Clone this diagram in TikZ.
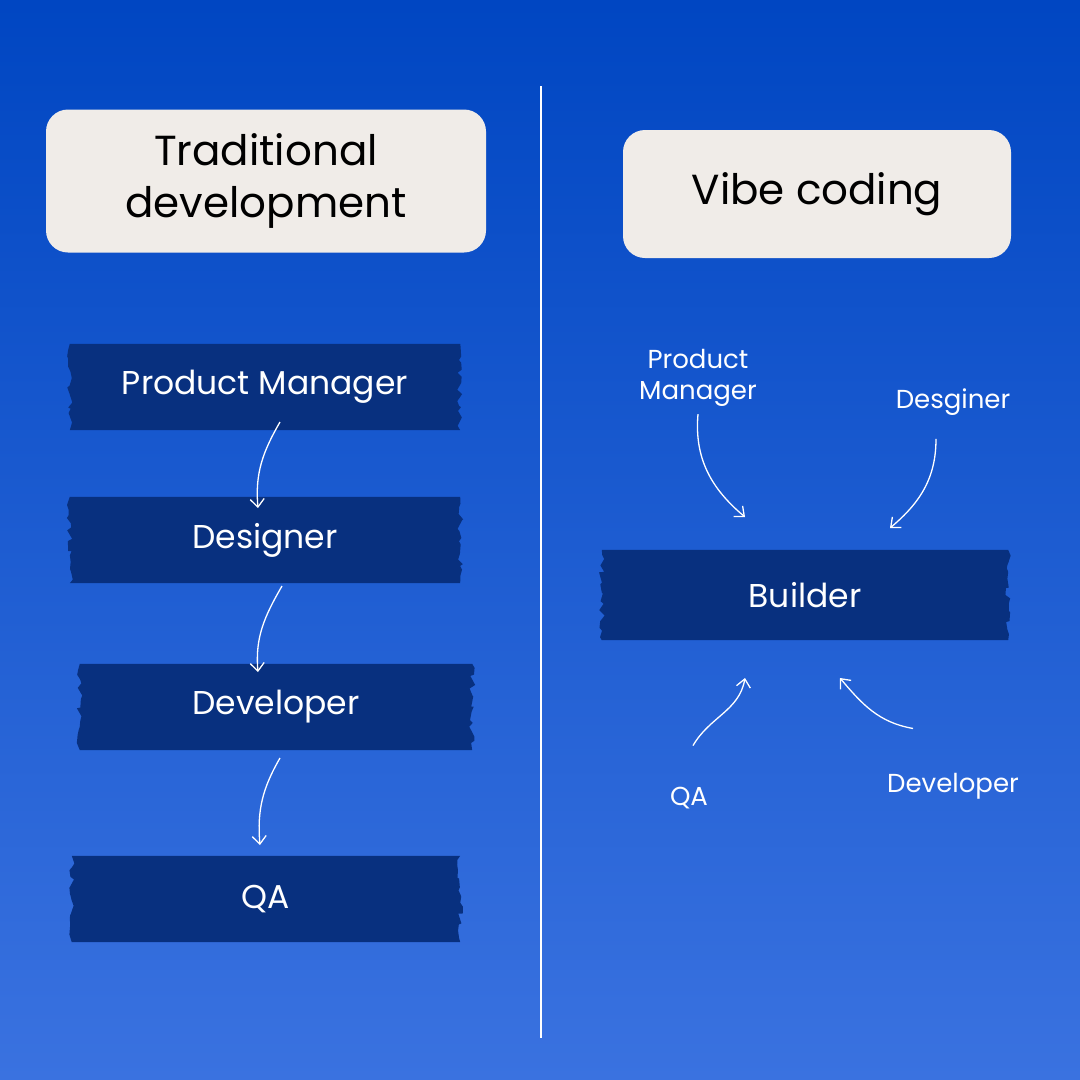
\documentclass[tikz,border=0pt]{standalone}
\usepackage{fontspec}
\setmainfont{Poppins}
\usetikzlibrary{arrows.meta,decorations.pathmorphing}
\definecolor{navy}{HTML}{08307F}
\definecolor{cream}{HTML}{F0ECE8}
\tikzset{
  bx/.style={minimum height=86pt,inner sep=0pt,text=white,font=\fontsize{33}{36}\selectfont},
  lbl/.style={text=white,font=\fontsize{26}{31}\selectfont,align=center},
  title/.style={fill=cream,rounded corners=22pt,align=center,font=\fontsize{42}{58}\selectfont,inner sep=0pt},
  arr/.style={white,line width=1.3pt,-{Straight Barb[length=8pt,width=14pt]}},
  rough/.style={decorate,decoration={random steps,segment length=5pt,amplitude=3pt}}
}
\newcommand{\brush}[1]{\fill[navy] (#1.north west) -- (#1.north east) decorate[rough]{-- (#1.south east)} -- (#1.south west) decorate[rough]{-- (#1.north west)};}
\begin{document}
\begin{tikzpicture}[x=1pt,y=-1pt]
\shade[top color=blue!70!black!95!cyan,bottom color=blue!55!cyan!60!white] (0,0) rectangle (1080,1080);
\shade[top color={rgb,255:red,0;green,70;blue,194},bottom color={rgb,255:red,58;green,114;blue,224}] (0,0) rectangle (1080,1080);
\useasboundingbox (0,0) rectangle (1080,1080);
\draw[white,line width=2.5pt] (541,86) -- (541,1038);
\node[title,minimum width=440pt,minimum height=143pt] (t1) at (266,181) {Traditional\\[-6pt]development};
\node[title,minimum width=388pt,minimum height=128pt] (t2) at (817,194) {Vibe coding};
\node[bx,minimum width=390pt] (pm) at (265,387) {};
\node[bx,minimum width=390pt] (de) at (265,540) {};
\node[bx,minimum width=392pt] (dv) at (276,707) {};
\node[bx,minimum width=388pt] (qa) at (266,899) {};
\node[bx,minimum width=406pt,minimum height=90pt] (bu) at (805,595) {};
\foreach \n in {pm,de,dv,qa,bu}{\brush{\n}}
\node[bx] at (pm) {Product Manager};
\node[bx] at (de) {Designer};
\node[bx] at (dv) {Developer};
\node[bx] at (qa) {QA};
\node[bx] at (bu) {Builder};
\draw[arr] (280,422) to[out=-120,in=95] (258,508);
\draw[arr] (282,586) to[out=-120,in=95] (258,672);
\draw[arr] (280,758) to[out=-120,in=95] (260,845);
\node[lbl] (rpm) at (698,378) {Product\\Manager};
\node[lbl] (rds) at (953,402) {Desginer};
\node[lbl] (rqa) at (689,798) {QA};
\node[lbl] (rdv) at (953,786) {Developer};
\coordinate (a1) at (745,517); \coordinate (a2) at (890,528);
\coordinate (a3) at (745,678); \coordinate (a4) at (840,678);
\draw[arr] (rpm.south)++(0,4) to[out=-95,in=140] (a1);
\draw[arr] (rds.south)++(-17,20) to[out=-90,in=40] (a2);
\draw[arr] (rqa.north)++(4,-38) to[out=60,in=-100] (a3);
\draw[arr] (rdv.north)++(-40,-41) to[out=170,in=-50] (a4);
\end{tikzpicture}
\end{document}
